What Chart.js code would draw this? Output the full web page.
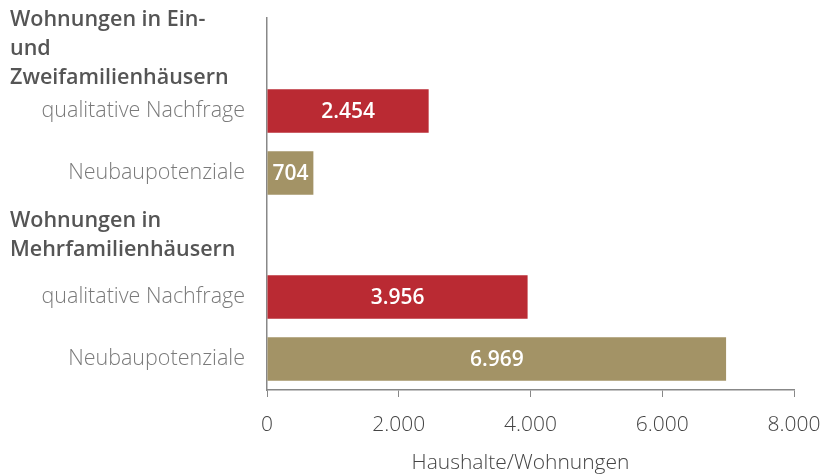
<!DOCTYPE html>
<html>
<head>
<meta charset="utf-8">
<script src="https://cdn.jsdelivr.net/npm/chart.js@4"></script>
<style>
  html, body { margin: 0; padding: 0; background: #fff; }
  #wrap { width: 821px; height: 474px; }
</style>
</head>
<body>
<div id="wrap"><canvas id="chart"></canvas></div>
<script>
const categories = ['Wohnungen in Ein-\nund\nZweifamilienhäusern', 'qualitative Nachfrage', 'Neubaupotenziale',
  'Wohnungen in\nMehrfamilienhäusern', 'qualitative Nachfrage', 'Neubaupotenziale'];
const isHeader = [true, false, false, true, false, false];
const values = [null, 2454, 704, null, 3956, 6969];
const barColors = ['#fff', '#BA2A33', '#A39366', '#fff', '#BA2A33', '#A39366'];
const xTicks = [0, 2000, 4000, 6000, 8000];
const xTitle = 'Haushalte/Wohnungen';

const fmt = v => String(v).replace(/\B(?=(\d{3})+(?!\d))/g, '.');
const FONT = '"Open Sans", sans-serif';

// headers drawn left aligned, bar values inside bars, axis title
const extras = {
  id: 'extras',
  afterDatasetsDraw(chart) {
    const ctx = chart.ctx;
    const y = chart.scales.y;
    const x = chart.scales.x;
    ctx.save();
    ctx.font = '600 21.5px ' + FONT;
    ctx.fillStyle = '#555';
    ctx.textBaseline = 'middle';
    ctx.textAlign = 'left';
    categories.forEach((c, i) => {
      if (!isHeader[i]) return;
      const lines = c.split('\n');
      const lh = 29;
      const cy = y.getPixelForValue(i);
      lines.forEach((l, k) => {
        ctx.fillText(l, 10, cy + (k - (lines.length - 1) / 2) * lh);
      });
    });
    ctx.font = '600 21px ' + FONT;
    ctx.fillStyle = '#fff';
    ctx.textAlign = 'center';
    chart.getDatasetMeta(0).data.forEach((bar, i) => {
      if (values[i] == null) return;
      const cx = (bar.x + bar.base) / 2;
      ctx.fillText(fmt(values[i]), cx, bar.y + 1);
    });
    // axis title, sits a little left of the plot centre
    ctx.font = '300 21px ' + FONT;
    ctx.fillStyle = '#444';
    ctx.fillText(xTitle, (x.left + x.right) / 2 - 10, x.bottom - 11);
    ctx.restore();
  }
};

new Chart(document.getElementById('chart'), {
  type: 'bar',
  data: {
    labels: categories.map((c, i) => isHeader[i] ? '' : c),
    datasets: [{
      data: values,
      backgroundColor: barColors,
      categoryPercentage: 0.7,
      barPercentage: 1
    }]
  },
  options: {
    indexAxis: 'y',
    responsive: true,
    maintainAspectRatio: false,
    animation: false,
    layout: { padding: { top: 18, right: 27, left: 0, bottom: 0 } },
    plugins: { legend: { display: false }, tooltip: { enabled: false } },
    scales: {
      x: {
        min: 0,
        max: 8000,
        afterBuildTicks: s => { s.ticks = xTicks.map(v => ({ value: v })); },
        afterFit: s => { s.height = 84; s.paddingLeft = 0; s.paddingRight = 0; },
        grid: { drawOnChartArea: false, tickLength: 7, color: '#888' },
        border: { color: '#888', width: 1.5 },
        ticks: {
          color: '#444',
          font: { family: FONT, size: 21, weight: 300 },
          padding: 15,
          maxRotation: 0,
          callback: v => fmt(v)
        }
      },
      y: {
        afterFit: s => { s.width = 267; s.paddingTop = 0; s.paddingBottom = 0; },
        grid: { display: false, drawTicks: false },
        border: { color: '#888', width: 1.5 },
        ticks: {
          color: '#7a7a7a',
          font: { family: FONT, size: 21.5, weight: 300 },
          padding: 22
        }
      }
    }
  },
  plugins: [extras]
});
</script>
</body>
</html>
